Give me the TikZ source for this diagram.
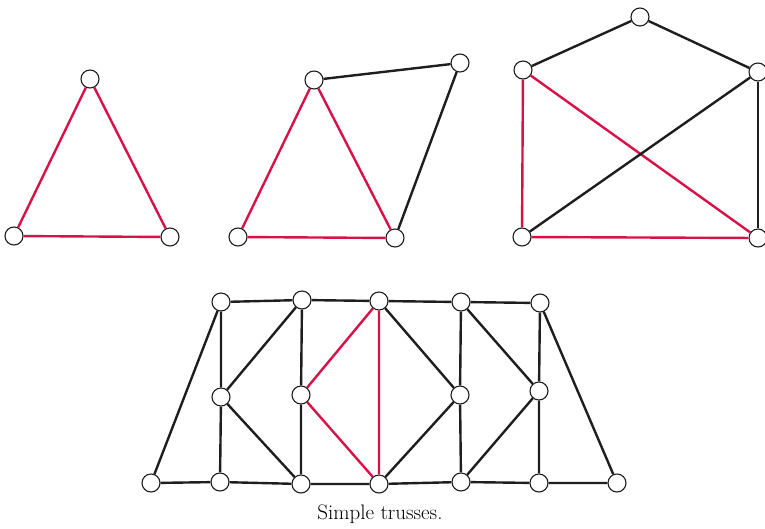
\documentclass[tikz,border=0pt]{standalone}
\usepackage{fontspec}
\usepackage{tikz}
\usepackage{xcolor}
\usetikzlibrary{positioning}
\definecolor{trussred}{RGB}{214,18,72}
\definecolor{trussblack}{RGB}{30,30,30}

\begin{document}
\begin{tikzpicture}[x=1pt,y=-1pt]
\tikzset{
				joint/.style={
					draw=trussblack,
					circle,
					fill=white,
					line width=1.1pt,
					minimum size=18pt,
					inner sep=0pt
				},
				bar/.style={
					draw=trussblack,
					line width=2.4pt
				},
				redbar/.style={
					draw=trussred,
					line width=2.4pt
				}
			}
			\useasboundingbox (0,0) rectangle (765,528);
			% single triangle
			\node[joint] (tri-t) at (90,79) {};
			\node[joint] (tri-l) at (14,236) {};
			\node[joint] (tri-r) at (170,237) {};
			\draw[redbar] (tri-l) -- (tri-t) -- (tri-r) -- (tri-l);
			
			% triangle plus one joint
			\node[joint] (two-t) at (314,80) {};
			\node[joint] (two-l) at (238,237) {};
			\node[joint] (two-r) at (395,238) {};
			\node[joint] (two-x) at (460,63) {};
			\draw[redbar] (two-l) -- (two-t) -- (two-r) -- (two-l);
			\draw[bar] (two-t) -- (two-x);
			\draw[bar] (two-x) -- (two-r);
			
			% two more joints
			\node[joint] (thr-t) at (640,17) {};
			\node[joint] (thr-a) at (523,70) {};
			\node[joint] (thr-b) at (758,72) {};
			\node[joint] (thr-c) at (522,237) {};
			\node[joint] (thr-d) at (758,238) {};
			\draw[redbar] (thr-a) -- (thr-c) -- (thr-d) -- (thr-a);
			\draw[bar] (thr-a) -- (thr-t) -- (thr-b);
			\draw[bar] (thr-b) -- (thr-c);
			\draw[bar] (thr-b) -- (thr-d);
			
			% bridge
			\node[joint] (top1) at (221,302) {};
			\node[joint] (top2) at (302,300) {};
			\node[joint] (top3) at (379,301) {};
			\node[joint] (top4) at (461,302) {};
			\node[joint] (top5) at (540,303) {};
			\node[joint] (mid1) at (221,397) {};
			\node[joint] (mid2) at (301,395) {};
			\node[joint] (mid4) at (460,395) {};
			\node[joint] (mid5) at (539,391) {};
			\node[joint] (bot0) at (151,483) {};
			\node[joint] (bot1) at (220,482) {};
			\node[joint] (bot2) at (301,484) {};
			\node[joint] (bot3) at (379,484) {};
			\node[joint] (bot4) at (461,482) {};
			\node[joint] (bot5) at (539,483) {};
			\node[joint] (bot6) at (617,483) {};
			
			\draw[bar] (top1) -- (top2) -- (top3) -- (top4) -- (top5);
			\draw[bar] (bot0) -- (bot1) -- (bot2) -- (bot3) -- (bot4) -- (bot5) -- (bot6);
			\draw[bar] (bot0) -- (top1);
			\draw[bar] (top1) -- (mid1) -- (bot1);
			\draw[bar] (top2) -- (mid1) -- (bot2);
			\draw[bar] (top2) -- (mid2) -- (bot2);
			\draw[redbar] (top3) -- (mid2) -- (bot3) -- (top3);
			\draw[bar] (top3) -- (mid4) -- (bot3);
			\draw[bar] (top4) -- (mid4) -- (bot4);
			\draw[bar] (top4) -- (mid5) -- (bot4);
			\draw[bar] (top5) -- (mid5) -- (bot5);
			\draw[bar] (top5) -- (bot6);
			
			\node (caption) at (380,514) {\fontsize{21}{24}\selectfont Simple trusses.};
\end{tikzpicture}
\end{document}
